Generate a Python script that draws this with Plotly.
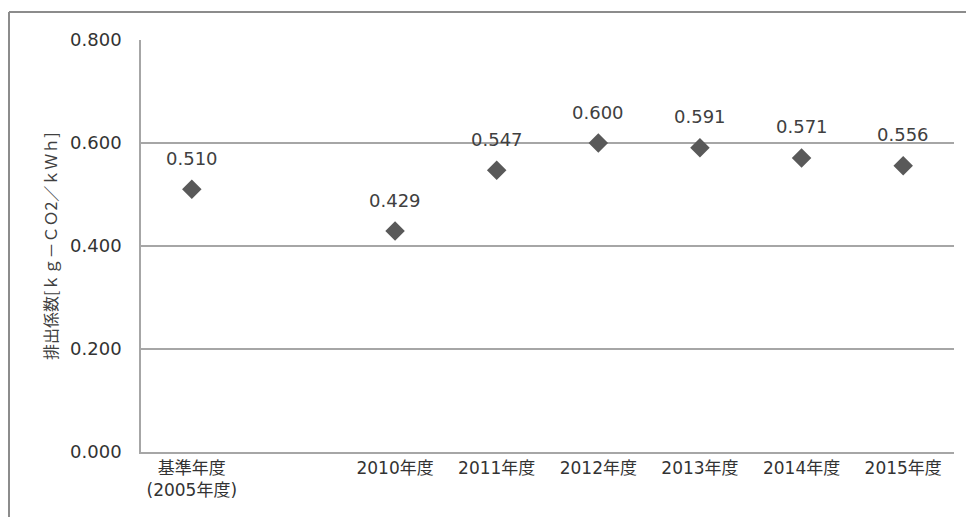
import plotly.graph_objects as go

categories = ["基準年度<br>(2005年度)", " ", "2010年度", "2011年度", "2012年度", "2013年度", "2014年度", "2015年度"]
point_cats = ["基準年度<br>(2005年度)", "2010年度", "2011年度", "2012年度", "2013年度", "2014年度", "2015年度"]
values = [0.510, 0.429, 0.547, 0.600, 0.591, 0.571, 0.556]
y_ticks = [0.0, 0.2, 0.4, 0.6, 0.8]
y_title = "排出係数[ｋｇ－ＣＯ2／ｋＷｈ]"

W, H = 966, 517
ML, MR, MT, MB = 141, 12, 40, 65
font = "DejaVu Sans, Noto Sans CJK JP, sans-serif"

fig = go.Figure()
fig.add_trace(go.Scatter(
    x=point_cats, y=values, mode="markers",
    marker=dict(symbol="diamond", size=15, color="#595959"),
    showlegend=False, hoverinfo="skip"))

for c, v in zip(point_cats, values):
    fig.add_annotation(x=c, y=v, text=f"{v:.3f}", showarrow=False,
                       yshift=31, font=dict(size=18, color="#404040", family=font))

pw = W - ML - MR
ph = H - MT - MB
fig.add_annotation(xref="paper", yref="paper", x=(36 - ML) / pw, y=0.5,
                   text=y_title, textangle=-90, showarrow=False,
                   font=dict(size=16, color="#404040", family="Noto Sans CJK JP"))

# outer frame
fig.add_shape(type="line", xref="paper", yref="paper",
              x0=(9 - ML) / pw, x1=(966 - ML) / pw,
              y0=(H - MB - 12) / ph, y1=(H - MB - 12) / ph,
              line=dict(color="#8c8c8c", width=2))
fig.add_shape(type="line", xref="paper", yref="paper",
              x0=(9 - ML) / pw, x1=(9 - ML) / pw,
              y0=(H - MB - 12) / ph, y1=(H - MB - 517) / ph,
              line=dict(color="#8c8c8c", width=2))

fig.update_layout(
    width=W, height=H,
    margin=dict(l=ML, r=MR, t=MT, b=MB),
    paper_bgcolor="white", plot_bgcolor="white",
    xaxis=dict(type="category", categoryorder="array", categoryarray=categories,
               tickmode="array", tickvals=categories, ticktext=categories,
               range=[-0.5, 7.5], showgrid=False, showline=True,
               linecolor="#a6a6a6", linewidth=1.5, ticks="",
               tickfont=dict(size=17, color="#333333", family=font)),
    yaxis=dict(range=[0, 0.8], tickvals=y_ticks,
               ticktext=[f"{t:.3f}" for t in y_ticks],
               showgrid=True, gridcolor="#a6a6a6", gridwidth=1.5,
               showline=True, linecolor="#a6a6a6", linewidth=1.5,
               zeroline=False, ticks="", ticklabelstandoff=14,
               tickfont=dict(size=18, color="#333333", family=font)),
)

fig.write_html("out.html")
